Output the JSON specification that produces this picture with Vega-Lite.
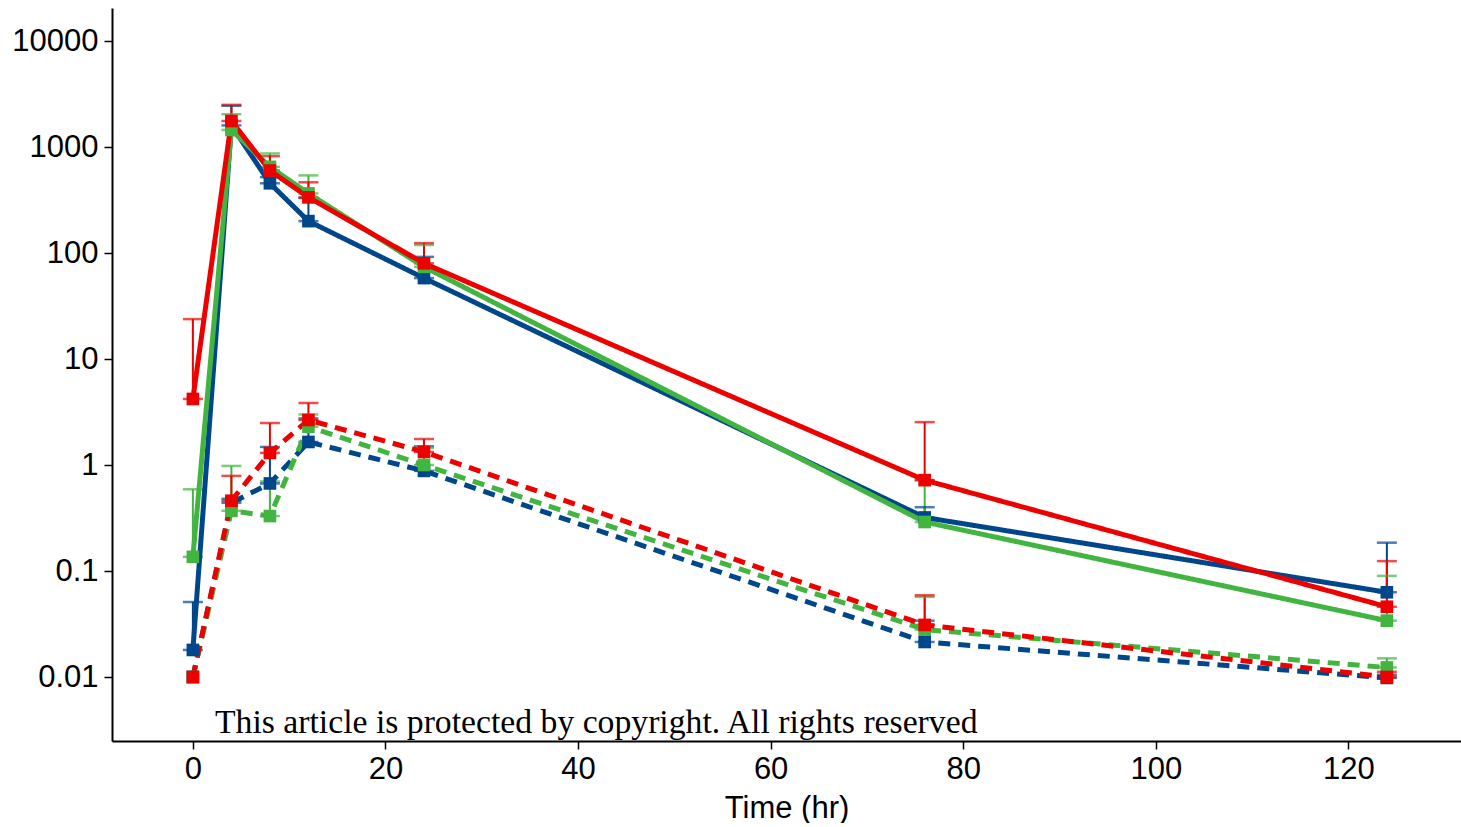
{
  "$schema": "https://vega.github.io/schema/vega-lite/v6.json",
  "width": 1349,
  "height": 733,
  "padding": {"left": 0, "top": 8, "right": 0, "bottom": 0},
  "background": "white",
  "config": {
    "view": {"stroke": null},
    "font": "Liberation Sans",
    "axis": {
      "grid": false,
      "domainColor": "black",
      "domainWidth": 2,
      "tickColor": "black",
      "tickWidth": 1.5,
      "tickSize": 8,
      "labelColor": "black",
      "labelFont": "Liberation Sans",
      "labelFontSize": 31,
      "titleFont": "Liberation Sans",
      "titleFontSize": 31,
      "titleFontWeight": "normal",
      "titleColor": "black"
    }
  },
  "datasets": {
    "pk": [
      {"time": 0, "group": "G1", "matrix": "solid", "mean": 0.018, "upper": 0.051},
      {"time": 4, "group": "G1", "matrix": "solid", "mean": 1600, "upper": 2450},
      {"time": 8, "group": "G1", "matrix": "solid", "mean": 455, "upper": 520},
      {"time": 12, "group": "G1", "matrix": "solid", "mean": 200, "upper": 330},
      {"time": 24, "group": "G1", "matrix": "solid", "mean": 58, "upper": 92},
      {"time": 76, "group": "G1", "matrix": "solid", "mean": 0.32, "upper": 0.4},
      {"time": 124, "group": "G1", "matrix": "solid", "mean": 0.063, "upper": 0.185},
      {"time": 0, "group": "G1", "matrix": "dashed", "mean": 0.01, "upper": null},
      {"time": 4, "group": "G1", "matrix": "dashed", "mean": 0.44, "upper": 0.48},
      {"time": 8, "group": "G1", "matrix": "dashed", "mean": 0.67, "upper": 1.48},
      {"time": 12, "group": "G1", "matrix": "dashed", "mean": 1.65, "upper": 2.75},
      {"time": 24, "group": "G1", "matrix": "dashed", "mean": 0.88, "upper": 1.5},
      {"time": 76, "group": "G1", "matrix": "dashed", "mean": 0.0214, "upper": 0.034},
      {"time": 124, "group": "G1", "matrix": "dashed", "mean": 0.0098, "upper": 0.0105},
      {"time": 0, "group": "G2", "matrix": "solid", "mean": 0.136, "upper": 0.59},
      {"time": 4, "group": "G2", "matrix": "solid", "mean": 1450, "upper": 2040},
      {"time": 8, "group": "G2", "matrix": "solid", "mean": 650, "upper": 870},
      {"time": 12, "group": "G2", "matrix": "solid", "mean": 365, "upper": 540},
      {"time": 24, "group": "G2", "matrix": "solid", "mean": 74, "upper": 119},
      {"time": 76, "group": "G2", "matrix": "solid", "mean": 0.29, "upper": 0.72},
      {"time": 124, "group": "G2", "matrix": "solid", "mean": 0.034, "upper": 0.09},
      {"time": 0, "group": "G2", "matrix": "dashed", "mean": 0.01, "upper": null},
      {"time": 4, "group": "G2", "matrix": "dashed", "mean": 0.37, "upper": 0.98},
      {"time": 8, "group": "G2", "matrix": "dashed", "mean": 0.33, "upper": 0.7},
      {"time": 12, "group": "G2", "matrix": "dashed", "mean": 2.3, "upper": 3.0},
      {"time": 24, "group": "G2", "matrix": "dashed", "mean": 1.0, "upper": 1.45},
      {"time": 76, "group": "G2", "matrix": "dashed", "mean": 0.028, "upper": 0.057},
      {"time": 124, "group": "G2", "matrix": "dashed", "mean": 0.0123, "upper": 0.015},
      {"time": 0, "group": "G3", "matrix": "solid", "mean": 4.2, "upper": 23.8},
      {"time": 4, "group": "G3", "matrix": "solid", "mean": 1760, "upper": 2500},
      {"time": 8, "group": "G3", "matrix": "solid", "mean": 600, "upper": 820},
      {"time": 12, "group": "G3", "matrix": "solid", "mean": 335, "upper": 465},
      {"time": 24, "group": "G3", "matrix": "solid", "mean": 80, "upper": 124},
      {"time": 76, "group": "G3", "matrix": "solid", "mean": 0.72, "upper": 2.54},
      {"time": 124, "group": "G3", "matrix": "solid", "mean": 0.046, "upper": 0.124},
      {"time": 0, "group": "G3", "matrix": "dashed", "mean": 0.01, "upper": null},
      {"time": 4, "group": "G3", "matrix": "dashed", "mean": 0.46, "upper": 0.79},
      {"time": 8, "group": "G3", "matrix": "dashed", "mean": 1.3, "upper": 2.49},
      {"time": 12, "group": "G3", "matrix": "dashed", "mean": 2.66, "upper": 3.85},
      {"time": 24, "group": "G3", "matrix": "dashed", "mean": 1.33, "upper": 1.76},
      {"time": 76, "group": "G3", "matrix": "dashed", "mean": 0.031, "upper": 0.059},
      {"time": 124, "group": "G3", "matrix": "dashed", "mean": 0.01, "upper": 0.0112}
    ],
    "note": [
      {"time": 2.3, "mean": 0.00296, "label": "This article is protected by copyright. All rights reserved"}
    ]
  },
  "encoding": {
    "x": {
      "field": "time", "type": "quantitative",
      "scale": {"domain": [-8.4, 131.7], "nice": false, "zero": false},
      "axis": {"values": [0, 20, 40, 60, 80, 100, 120], "title": "Time (hr)", "labelPadding": 5, "titlePadding": 10, "minExtent": 42, "maxExtent": 42}
    },
    "y": {
      "field": "mean", "type": "quantitative",
      "scale": {"type": "log", "domain": [0.00249, 20500], "nice": false},
      "axis": {"values": [0.01, 0.1, 1, 10, 100, 1000, 10000], "format": "~g", "title": null, "labelPadding": 6, "minExtent": 112, "maxExtent": 112}
    },
    "color": {
      "field": "group", "type": "nominal",
      "scale": {"domain": ["G1", "G2", "G3"], "range": ["#00468B", "#42B540", "#ED0000"]},
      "legend": null
    }
  },
  "layer": [
    {
      "data": {"name": "pk"},
      "transform": [{"filter": "datum.upper != null"}],
      "mark": {"type": "rule", "strokeWidth": 2},
      "encoding": {"y2": {"field": "upper"}}
    },
    {
      "data": {"name": "pk"},
      "transform": [{"filter": "datum.upper != null"}],
      "mark": {"type": "tick", "orient": "horizontal", "size": 20, "thickness": 2.5},
      "encoding": {"y": {"field": "upper", "type": "quantitative"}}
    },
    {
      "data": {"name": "pk"},
      "transform": [{"filter": "datum.upper != null"}],
      "mark": {"type": "tick", "orient": "horizontal", "size": 20, "thickness": 2.5}
    },
    {
      "data": {"name": "pk"},
      "mark": {"type": "line", "strokeWidth": 5},
      "encoding": {
        "strokeDash": {
          "field": "matrix", "type": "nominal",
          "scale": {"domain": ["solid", "dashed"], "range": [[1, 0], [12, 8]]},
          "legend": null
        },
        "detail": {"field": "matrix"}
      }
    },
    {
      "data": {"name": "pk"},
      "mark": {"type": "point", "shape": "square", "filled": true, "opacity": 1, "size": 160}
    },
    {
      "data": {"name": "note"},
      "mark": {"type": "text", "align": "left", "baseline": "alphabetic", "font": "Liberation Serif", "fontSize": 33.7, "color": "black"},
      "encoding": {
        "text": {"field": "label"},
        "color": {"value": "black"}
      }
    }
  ]
}
